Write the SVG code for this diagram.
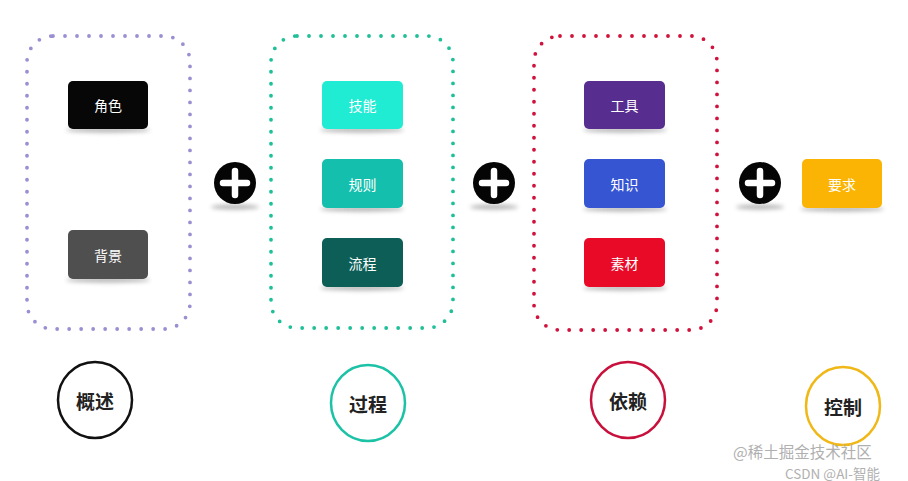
<svg xmlns="http://www.w3.org/2000/svg" width="908" height="481" viewBox="0 0 908 481">
<defs>
<style>
.grp{fill:none;stroke-width:3.8;stroke-linecap:round;stroke-dasharray:0 12}
.node text{font-family:"Noto Sans CJK SC","Liberation Sans",sans-serif;font-size:14px;fill:#fff;text-anchor:middle;dominant-baseline:central}
.cat text{font-family:"Noto Sans CJK SC","Liberation Sans",sans-serif;font-size:19px;font-weight:bold;fill:#222;text-anchor:middle;dominant-baseline:central}
.cat ellipse{fill:#fff;stroke-width:2.5}
.sh{fill:#777;opacity:.55;filter:url(#blur)}
.wm{font-family:"Noto Sans CJK SC","Liberation Sans",sans-serif;fill:#b0b0b0}
</style>
<filter id="blur" x="-20%" y="-200%" width="140%" height="500%"><feGaussianBlur stdDeviation="2"/></filter>
<g id="plusIcon">
<ellipse class="sh" cx="0" cy="24" rx="24" ry="2.5"/>
<circle r="21" fill="#050505"/>
<path d="M0-12V12M-12 0H12" stroke="#fff" stroke-width="6.5" stroke-linecap="round"/>
</g>
</defs>
<rect width="908" height="481" fill="#fff"/>

<g id="group-overview"><rect class="grp" x="27" y="36" width="163" height="293" rx="26" stroke="#9a8fd2"/></g>
<g id="group-process"><rect class="grp" x="271" y="36" width="182" height="292" rx="26" stroke="#1fbf98"/></g>
<g id="group-depend"><rect class="grp" x="534" y="36" width="183" height="294" rx="26" stroke="#d0123c"/></g>

<g id="connectors">
<use href="#plusIcon" x="235" y="183"/>
<use href="#plusIcon" x="494" y="183"/>
<use href="#plusIcon" x="760" y="183"/>
</g>

<g id="n-role" class="node"><ellipse class="sh" cx="108" cy="130" rx="42" ry="2.5"/><rect x="68" y="81" width="80" height="48" rx="5" fill="#070707"/><text x="108" y="105">角色</text></g>
<g id="n-bg" class="node"><ellipse class="sh" cx="108" cy="280" rx="42" ry="2.5"/><rect x="68" y="230" width="80" height="49" rx="5" fill="#4f4f4f"/><text x="108" y="254.5">背景</text></g>

<g id="n-skill" class="node"><ellipse class="sh" cx="362" cy="130" rx="42" ry="2.5"/><rect x="322" y="81" width="81" height="48" rx="5" fill="#20ecd4"/><text x="362.5" y="105">技能</text></g>
<g id="n-rule" class="node"><ellipse class="sh" cx="362" cy="209" rx="42" ry="2.5"/><rect x="322" y="159" width="81" height="49" rx="5" fill="#14bfad"/><text x="362.5" y="183.5">规则</text></g>
<g id="n-flow" class="node"><ellipse class="sh" cx="362" cy="288" rx="42" ry="2.5"/><rect x="322" y="238" width="81" height="49" rx="5" fill="#0c5e56"/><text x="362.5" y="262.5">流程</text></g>

<g id="n-tool" class="node"><ellipse class="sh" cx="625" cy="130" rx="42" ry="2.5"/><rect x="584" y="81" width="81" height="48" rx="5" fill="#582d90"/><text x="624.5" y="105">工具</text></g>
<g id="n-know" class="node"><ellipse class="sh" cx="625" cy="209" rx="42" ry="2.5"/><rect x="584" y="159" width="81" height="49" rx="5" fill="#3655d2"/><text x="624.5" y="183.5">知识</text></g>
<g id="n-mat" class="node"><ellipse class="sh" cx="625" cy="288" rx="42" ry="2.5"/><rect x="584" y="238" width="81" height="49" rx="5" fill="#e90a28"/><text x="624.5" y="262.5">素材</text></g>

<g id="n-req" class="node"><ellipse class="sh" cx="842" cy="209" rx="42" ry="2.5"/><rect x="802" y="159" width="80" height="49" rx="5" fill="#fbb404"/><text x="842" y="183.5">要求</text></g>

<g id="c-overview" class="cat"><ellipse cx="95" cy="400" rx="37" ry="38" stroke="#111"/><text x="95" y="400">概述</text></g>
<g id="c-process" class="cat"><ellipse cx="368" cy="403" rx="37" ry="38" stroke="#1cc2a6"/><text x="368" y="403">过程</text></g>
<g id="c-depend" class="cat"><ellipse cx="628" cy="400" rx="37" ry="38" stroke="#c8103c"/><text x="628" y="400">依赖</text></g>
<g id="c-control" class="cat"><ellipse cx="843" cy="406" rx="37" ry="39" stroke="#f0b816"/><text x="843" y="406">控制</text></g>

<text class="wm" x="733" y="458" font-size="15.5">@稀土掘金技术社区</text>
<text class="wm" x="785" y="478.5" font-size="13.5" fill="#a0a0a0">CSDN @AI-智能</text>
</svg>
